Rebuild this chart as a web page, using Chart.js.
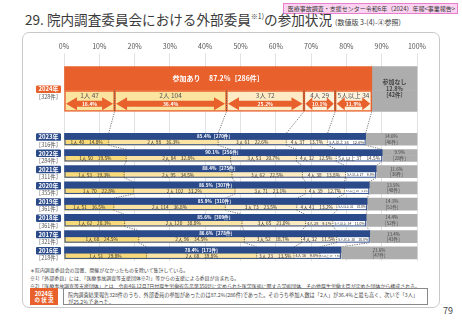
<!DOCTYPE html>
<html lang="ja"><head><meta charset="utf-8">
<script src="https://cdn.jsdelivr.net/npm/chart.js@4.4.1/dist/chart.umd.min.js"></script>
<style>
html,body{margin:0;padding:0;background:#fff;width:462px;height:320px;overflow:hidden;font-family:"Noto Sans CJK JP","Noto Sans",sans-serif;color:#333}
#panel{position:absolute;left:22px;top:32px;width:418px;height:276px;border:1px solid #c9c9c9;border-radius:7px;box-sizing:border-box;background:#fff}
#hdr{position:absolute;left:283px;top:3px;width:175px;height:11px;background:#fbd3f1;border:1px solid #e77fcd;box-sizing:border-box;overflow:hidden}
#hdr span{position:absolute;left:0;top:0;width:350px;font-size:12px;line-height:18px;text-align:center;color:#333;white-space:nowrap;transform:scale(0.5);transform-origin:0 0}
#title{position:absolute;left:25px;top:11px;font-size:13.6px;line-height:16px;white-space:nowrap;color:#3a3a3a}
#title .sup{font-size:7px;position:relative;top:-6px}
#title .sub{font-size:7px}
#wrap{position:absolute;left:0;top:0;width:462px;height:264px}
.note{position:absolute;left:30px;width:1000px;font-size:10px;line-height:12px;color:#444;white-space:nowrap;transform:scale(0.5);transform-origin:0 0}
#lab{position:absolute;left:30px;top:288px;width:28px;height:17px;background:#e8612c;overflow:hidden}
#lab span{position:absolute;left:0;top:2px;width:56px;color:#fff;font-size:11px;line-height:13px;text-align:center;font-weight:bold;transform:scale(0.5);transform-origin:0 0}
#box{position:absolute;left:63px;top:288px;width:365px;height:17px;border:1px solid #888;box-sizing:border-box;overflow:hidden}
#boxText{position:absolute;left:4px;top:1.5px;width:1000px;font-size:10px;line-height:14px;color:#444;white-space:nowrap;transform:scale(0.5);transform-origin:0 0}
#page{position:absolute;left:443px;top:305px;font-size:9px;line-height:12px;color:#444}
</style></head>
<body>
<div id="panel"></div>
<div id="hdr"><span>医療事故調査・支援センター令和6年（2024）年報&lt;事業報告&gt;</span></div>
<div id="title">29. 院内調査委員会における外部委員<span class="sup">※1)</span>の参加状況 <span class="sub">(数値版 3-(4)-④参照)</span></div>
<div id="wrap"><canvas id="c"></canvas></div>
<div class="note" style="top:267px">＊院内調査委員会の設置、開催がなかったものを除いて集計している。</div>
<div class="note" style="top:275px">※1)「外部委員」には、「医療事故調査等支援団体※2)」等からの支援による委員が含まれる。</div>
<div class="note" style="top:282.5px"><span id="longNote">※2)「医療事故調査等支援団体」とは、令和4年12月7日付厚生労働省告示第350号に定められた医学医術に関する学術団体、その他厚生労働大臣が定めた団体から構成される。</span></div>
<div id="lab"><span>2024年<br>の 状 況</span></div>
<div id="box"><div id="boxText"><span id="boxLine">院内調査結果報告328件のうち、外部委員の参加があったのは87.2%(286件)であった。そのうち参加人数は「2人」が36.4％と最も高く、次いで「3人」</span><br>が25.2％であった。</div></div>
<div id="page">79</div>
<script>
// fit the small print to the reference widths
function fitPrint(){
  const notes=document.querySelectorAll('.note');
  notes.forEach(n=>n.style.transform='none');
  const w=document.getElementById('longNote').getBoundingClientRect().width;
  const s=390/w;
  notes.forEach(n=>n.style.transform='scale('+s+')');
  const bt=document.getElementById('boxText');
  bt.style.transform='none';
  const w2=document.getElementById('boxLine').getBoundingClientRect().width;
  bt.style.transform='scale('+(350/w2)+')';
}
fitPrint();
if(document.fonts&&document.fonts.ready)document.fonts.ready.then(fitPrint);

// ---- data ----
const years = ['2024年','2023年','2022年','2021年','2020年','2019年','2018年','2017年','2016年'];
const cases = [328,316,284,311,355,361,361,321,218];
const p1 = [47,40,50,53,70,51,62,68,51];
const p2 = [104,98,84,95,102,114,120,96,68];
const p3 = [72,61,53,62,71,73,65,52,23];
const p4 = [29,37,32,38,39,41,28,32,16];
const p5 = [34,34,37,27,25,31,34,30,13];
const noneCases = [42,46,28,36,48,51,52,43,47];
const groupNames = ['1人','2人','3人','4人','5人以上'];
const xTicks = [0,10,20,30,40,50,60,70,80,90,100];

// ---- styling ----
const ORANGE='#e8612c', NAVY='#2b4a8a', GREY='#adadad';
const SEG = ['#f8d979','#fbe4a3','#fcebc0','#fdf1d6','#ffffff'];
const SEG24 = ['#fbe3a0','#fbe3a0','#fcebc4','#fdf2dc','#fdf2dc'];
const FONT='"Noto Sans CJK JP","Noto Sans",sans-serif';

const groups=[p1,p2,p3,p4,p5];
const GAP=2;
const slotOf=i=>i===0?0:i+GAP;
const nSlots=years.length+GAP;
const chartLabels=new Array(nSlots).fill('');
years.forEach((y,i)=>chartLabels[slotOf(i)]=y);
const joined=i=>cases[i]-noneCases[i];
const share=(n,i)=>n/cases[i]*100;
function series(fn,latest){const a=new Array(nSlots).fill(null);years.forEach((y,i)=>{if((i===0)===latest)a[slotOf(i)]=fn(i);});return a;}

const datasets=[], idx={};
function add(key,cfg){idx[key]=datasets.length;datasets.push(Object.assign({clip:false},cfg));}
add('head24',{stack:'top',data:series(i=>share(joined(i),i),true),backgroundColor:ORANGE,barThickness:24});
add('head',{stack:'top',data:series(i=>share(joined(i),i),false),backgroundColor:NAVY,barThickness:6});
add('noneTop24',{stack:'top',data:series(i=>share(noneCases[i],i),true),backgroundColor:GREY,barThickness:24});
add('noneTop',{stack:'top',data:series(i=>share(noneCases[i],i),false),backgroundColor:GREY,barThickness:6});
groups.forEach((g,k)=>add('seg24_'+k,{stack:'bottom',data:series(i=>share(g[i],i),true),backgroundColor:SEG24[k],borderColor:ORANGE,borderWidth:1.5,borderSkipped:false,barThickness:21}));
groups.forEach((g,k)=>add('seg_'+k,{stack:'bottom',data:series(i=>share(g[i],i),false),backgroundColor:SEG[k],barThickness:6}));
add('noneBot24',{stack:'bottom',data:series(i=>share(noneCases[i],i),true),backgroundColor:GREY,barThickness:21});
add('noneBot',{stack:'bottom',data:series(i=>share(noneCases[i],i),false),backgroundColor:GREY,barThickness:6});

function el(chart,key,i){return chart.getDatasetMeta(idx[key]).data[slotOf(i)];}
function rowGeom(chart,i){
  const L=i===0?'24':'';
  const head=el(chart,'head'+L,i);
  const segs=[0,1,2,3,4].map(k=>el(chart,'seg'+L+'_'+k,i));
  const noneT=el(chart,'noneTop'+L,i), noneB=el(chart,'noneBot'+L,i);
  return {head,segs,noneT,noneB,top:head.y-head.height/2,segTop:segs[0].y-segs[0].height/2,
    bottom:segs[0].y+segs[0].height/2,left:segs[0].base,bounds:segs.map(s=>s.x)};
}
function txt(ctx,s,x,y,size,color,bold,maxW){
  ctx.font=(bold?'bold ':'')+size+'px '+FONT;
  if(maxW){const w=ctx.measureText(s).width;if(w>maxW){size=Math.max(2.5,size*maxW/w);ctx.font=(bold?'bold ':'')+size+'px '+FONT;}}
  ctx.fillStyle=color;ctx.textAlign='center';ctx.textBaseline='middle';ctx.fillText(s,x,y);
}
function arrow(ctx,x0,x1,cy,shaftH,headH,headL){
  ctx.beginPath();
  ctx.moveTo(x0,cy);ctx.lineTo(x0+headL,cy-headH/2);ctx.lineTo(x0+headL,cy-shaftH/2);
  ctx.lineTo(x1-headL,cy-shaftH/2);ctx.lineTo(x1-headL,cy-headH/2);ctx.lineTo(x1,cy);
  ctx.lineTo(x1-headL,cy+headH/2);ctx.lineTo(x1-headL,cy+shaftH/2);ctx.lineTo(x0+headL,cy+shaftH/2);
  ctx.lineTo(x0+headL,cy+headH/2);ctx.closePath();ctx.fill();
}
const overlay={
  id:'overlay',
  beforeDatasetsDraw(chart){
    const ctx=chart.ctx;ctx.save();
    ctx.strokeStyle='#555';ctx.lineWidth=0.8;ctx.setLineDash([1.2,1.2]);
    for(let i=0;i<years.length-1;i++){
      const a=rowGeom(chart,i),b=rowGeom(chart,i+1);
      for(let k=0;k<5;k++){ctx.beginPath();ctx.moveTo(a.bounds[k],a.bottom);ctx.lineTo(b.bounds[k],b.top);ctx.stroke();}
    }
    ctx.restore();
  },
  afterDatasetsDraw(chart){
    const ctx=chart.ctx;ctx.save();
    years.forEach((yr,i)=>{
      const g=rowGeom(chart,i), latest=i===0;
      if(!latest){
        ctx.strokeStyle=NAVY;ctx.lineWidth=1;ctx.setLineDash([]);
        ctx.strokeRect(g.left+0.5,g.segTop,g.bounds[4]-g.left-1,g.bottom-g.segTop-0.5);
      }
      ctx.strokeStyle='#444';ctx.lineWidth=0.8;ctx.setLineDash([1.2,1.2]);
      for(let k=0;k<4;k++){ctx.beginPath();ctx.moveTo(g.bounds[k],g.segTop);ctx.lineTo(g.bounds[k],g.bottom);ctx.stroke();}
      ctx.setLineDash([]);
      const hx=(g.head.base+g.head.x)/2;
      const jp=share(joined(i),i).toFixed(1);
      const nx=(g.noneT.base+g.noneT.x)/2, np=share(noneCases[i],i).toFixed(1);
      if(latest){
        txt(ctx,'参加あり　 '+jp+'%［'+joined(i)+'件］',hx,g.head.y,7,'#fff',true);
        groups.forEach((arr,k)=>{
          const x0=k===0?g.left:g.bounds[k-1], x1=g.bounds[k], mx=(x0+x1)/2;
          const pc=(arr[i]/joined(i)*100).toFixed(1);
          txt(ctx,groupNames[k]+' '+arr[i],mx,g.segTop+4.8,6.5,'#555',false,x1-x0-3);
          ctx.fillStyle=ORANGE;
          const cy=g.segTop+13.2;
          arrow(ctx,x0+1.5,x1-1.5,cy,6,13,Math.min(11,(x1-x0)*0.22));
          txt(ctx,pc+'%',mx,cy,5,'#fff',true);
        });
        const cyN=(g.top+g.bottom)/2;
        txt(ctx,'参加なし',nx,cyN-7,6,'#444',true);
        txt(ctx,np+'%',nx,cyN-0.5,5.5,'#444',true);
        txt(ctx,'［'+noneCases[i]+'件］',nx,cyN+5.5,5.5,'#444',true);
      }else{
        txt(ctx,jp+'%［'+joined(i)+'件］',hx,g.head.y,4.6,'#fff',true);
        groups.forEach((arr,k)=>{
          const x0=k===0?g.left:g.bounds[k-1], x1=g.bounds[k], mx=(x0+x1)/2;
          const pc=(arr[i]/joined(i)*100).toFixed(1);
          txt(ctx,groupNames[k]+' '+arr[i]+'　'+pc+'%',mx,g.segs[k].y,4.8,'#333',false,x1-x0-3);
        });
        const cyN=(g.top+g.bottom)/2;
        txt(ctx,np+'%',nx,cyN-2.8,4.5,'#444',false);
        txt(ctx,'［'+noneCases[i]+'件］',nx,cyN+2.8,4.5,'#444',false);
      }
      const bx=36,bw=25,bh=7.6;
      const by=latest?(g.top+g.bottom)/2-3.6:g.top;
      ctx.fillStyle=latest?ORANGE:NAVY;
      ctx.beginPath();ctx.roundRect(bx,by,bw,bh,1.2);ctx.fill();
      txt(ctx,yr,bx+bw/2,by+bh/2,6,'#fff',true);
      txt(ctx,'［'+cases[i]+'件］',bx+bw/2,by+bh+3.6,5.5,'#555',false);
    });
    ctx.restore();
  }
};

new Chart(document.getElementById('c'),{
  type:'bar',
  data:{labels:chartLabels,datasets},
  options:{
    indexAxis:'y',responsive:true,maintainAspectRatio:false,animation:false,
    layout:{padding:{left:64,right:45,top:39,bottom:3}},
    datasets:{bar:{skipNull:true}},
    plugins:{legend:{display:false},tooltip:{enabled:false}},
    scales:{
      x:{position:'top',stacked:true,min:0,max:100,
        afterBuildTicks:s=>{s.ticks=xTicks.map(v=>({value:v}));},
        ticks:{callback:v=>v+'%',padding:3,color:'#555',font:{size:7,family:FONT}},
        grid:{color:'#e2e2e2',lineWidth:1,tickLength:29},border:{display:false}},
      y:{stacked:true,display:false}
    }
  },
  plugins:[overlay]
});
</script>
</body></html>
